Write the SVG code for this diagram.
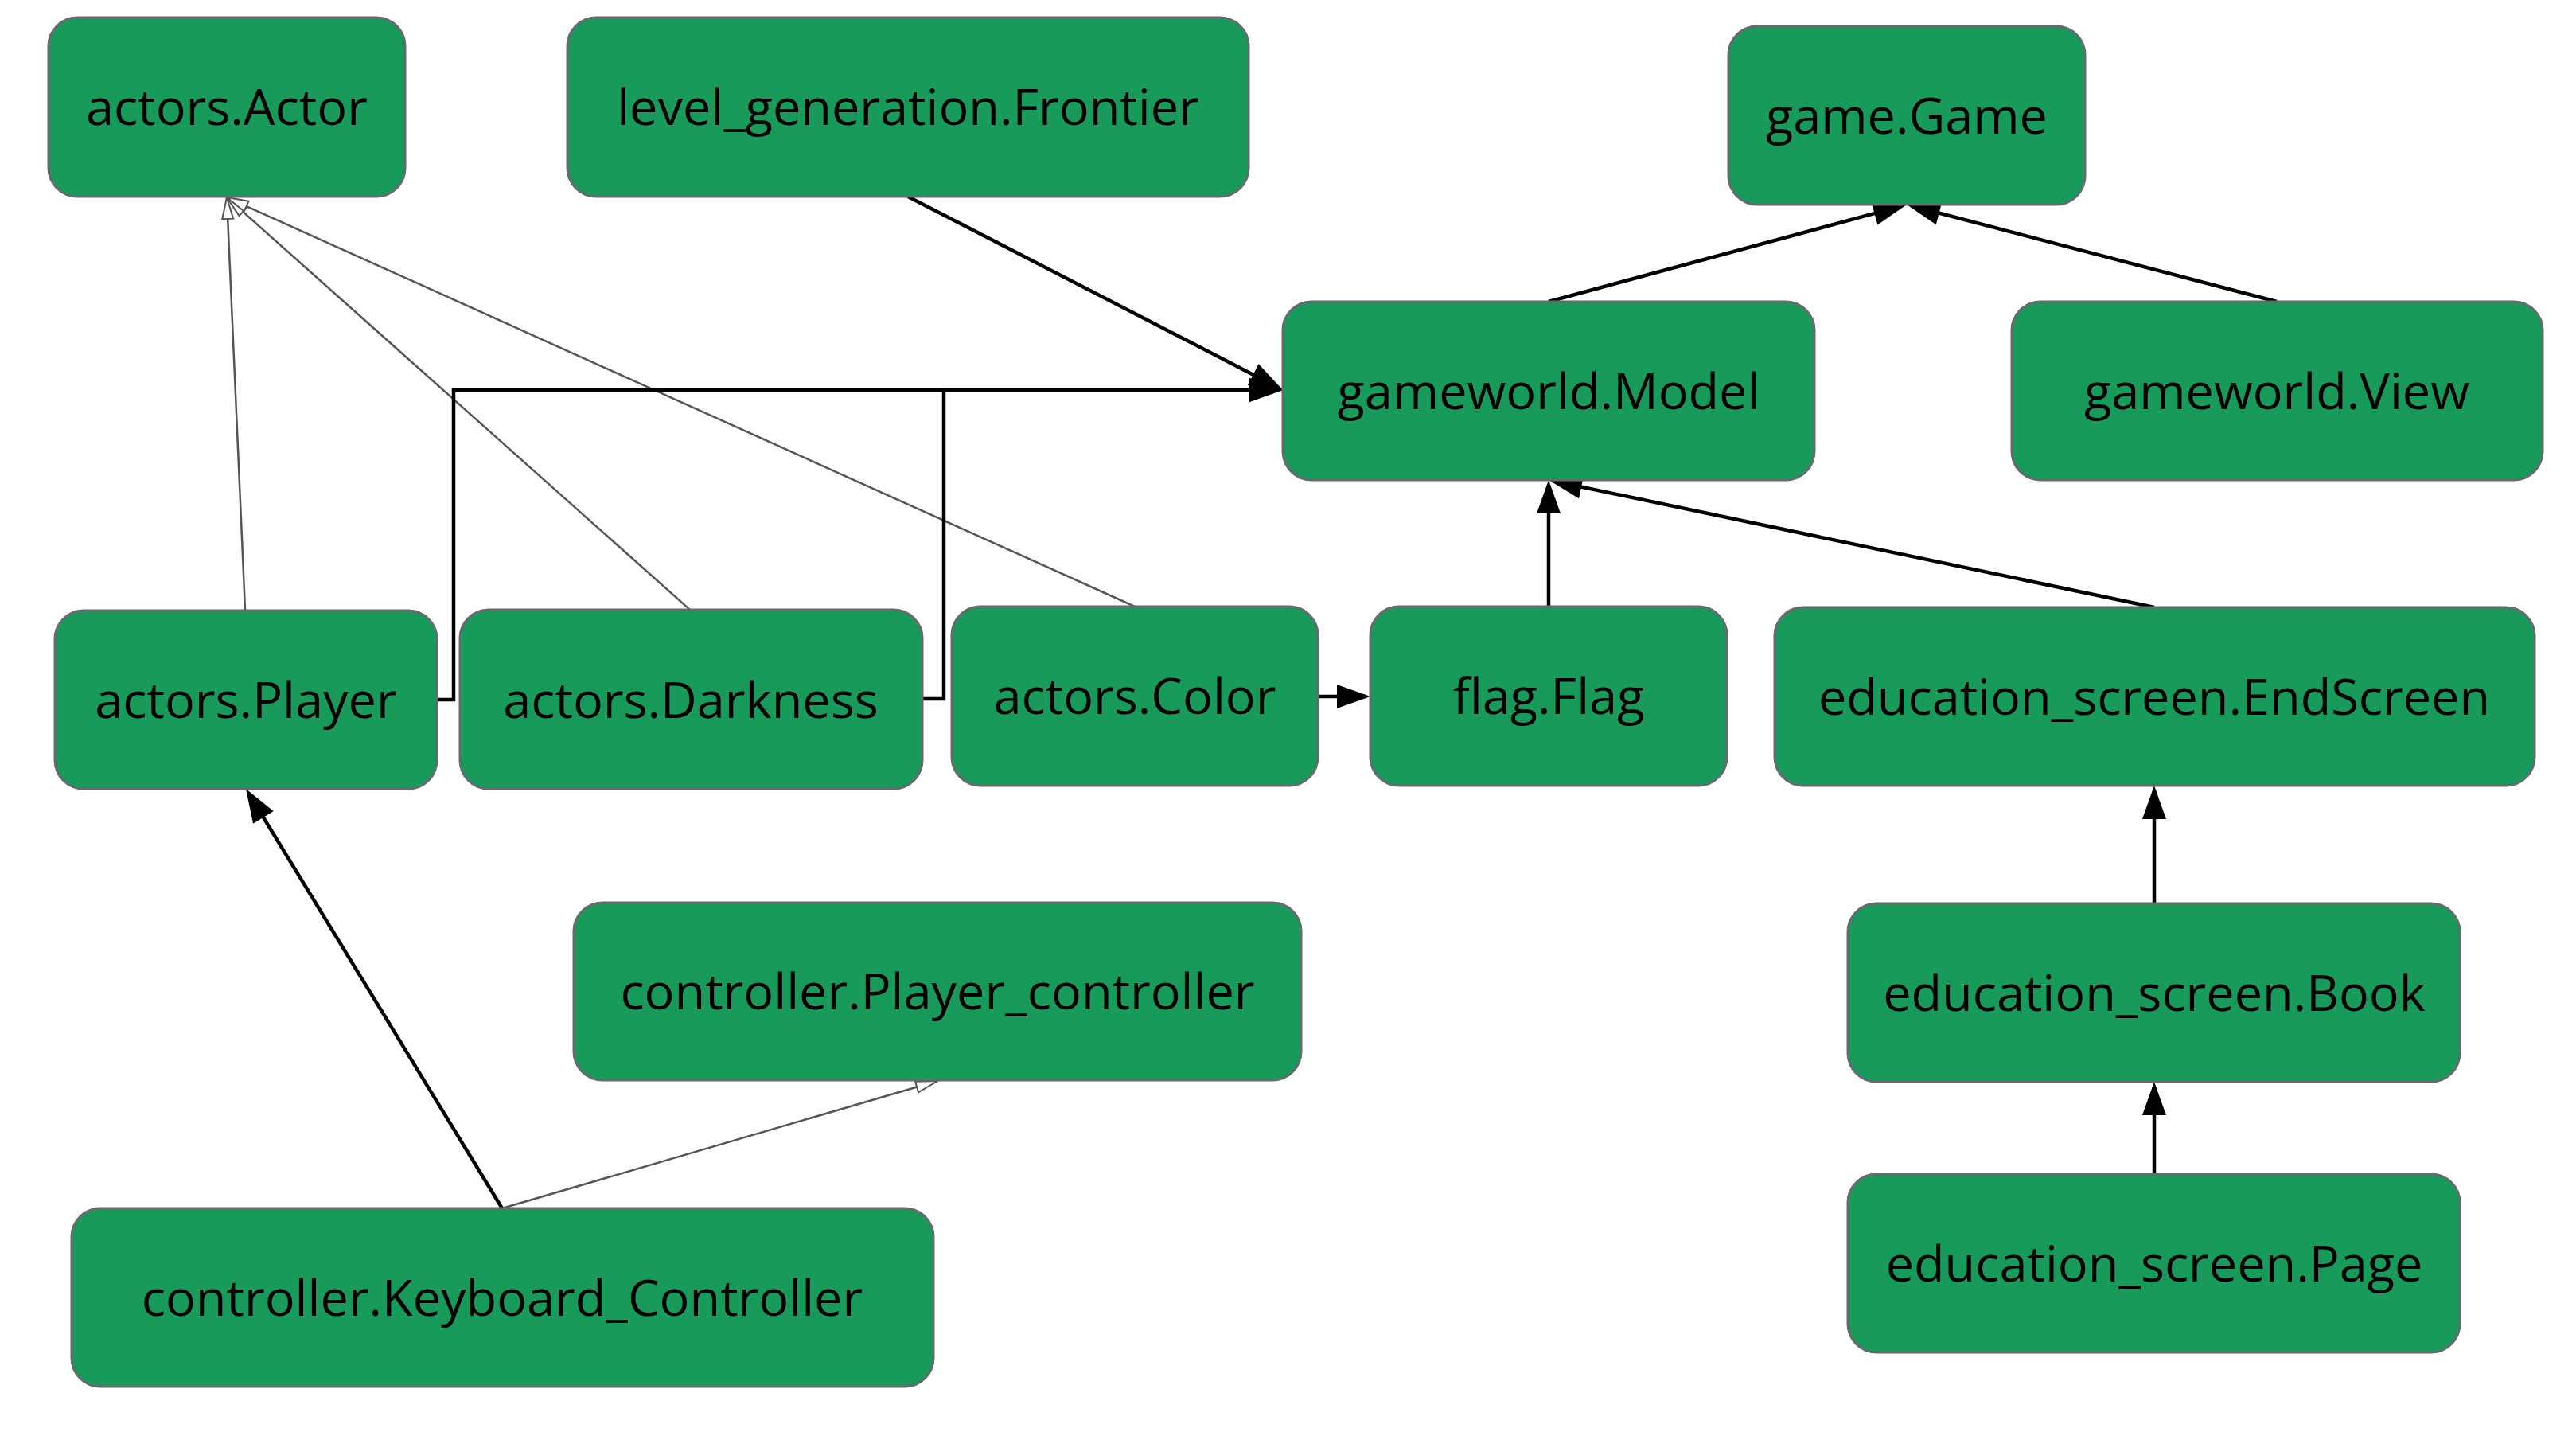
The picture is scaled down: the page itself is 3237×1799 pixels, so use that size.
<svg xmlns="http://www.w3.org/2000/svg" width="3237" height="1799" viewBox="0 0 3237 1799">
<style>
.node rect{fill:#179a5a;stroke:#666a6e;stroke-width:3}
.node text{font-family:"Open Sans","Noto Sans",sans-serif;font-size:63px;fill:#000;text-anchor:middle}
.dep{fill:none;stroke:#000;stroke-width:4.5;marker-end:url(#filled)}
.inh{fill:none;stroke:#555;stroke-width:2.5;marker-end:url(#hollow)}
</style>
<defs>
<marker id="filled" markerUnits="userSpaceOnUse" markerWidth="42" markerHeight="30" refX="36" refY="15" orient="auto" overflow="visible">
<path d="M0,0 L42,15 L0,30 z" fill="#000"/>
</marker>
<marker id="hollow" markerUnits="userSpaceOnUse" markerWidth="30" markerHeight="18" refX="28" refY="8" orient="auto" overflow="visible">
<path d="M1,1 L28,8 L1,15 z" fill="#fff" stroke="#555" stroke-width="2"/>
</marker>
</defs>
<rect width="3237" height="1799" fill="#fff"/>
<g id="connectors">
<path class="inh" d="M308,766 L285,248"/>
<path class="inh" d="M867,766 L285,248"/>
<path class="inh" d="M1426,762 L285,248"/>
<path class="inh" d="M631,1518 L1178,1358"/>
<path class="dep" d="M1141,247 L1606.7,487.2"/>
<path class="dep" d="M549,879 H570 V490 H1606"/>
<path class="dep" d="M1159,878 H1186 V490 H1606"/>
<path class="dep" d="M1656,875 H1716"/>
<path class="dep" d="M1946,762 V609"/>
<path class="dep" d="M2707,763 L1951.9,604.2"/>
<path class="dep" d="M1946,379 L2390.2,258.6"/>
<path class="dep" d="M2861,379 L2401.8,258.5"/>
<path class="dep" d="M2707,1135 V993"/>
<path class="dep" d="M2707,1475 V1365"/>
<path class="dep" d="M631,1518 L312.1,996.1"/>
</g>
<g id="actors_Actor" class="node"><rect x="61" y="22" width="448" height="225" rx="36"/><text x="285" y="157">actors.Actor</text></g>
<g id="level_generation_Frontier" class="node"><rect x="713" y="22" width="856" height="225" rx="36"/><text x="1141" y="157">level_generation.Frontier</text></g>
<g id="game_Game" class="node"><rect x="2172" y="33" width="448" height="224" rx="36"/><text x="2396" y="168">game.Game</text></g>
<g id="gameworld_Model" class="node"><rect x="1612" y="379" width="668" height="224" rx="36"/><text x="1946" y="514">gameworld.Model</text></g>
<g id="gameworld_View" class="node"><rect x="2528" y="379" width="667" height="224" rx="36"/><text x="2861" y="514">gameworld.View</text></g>
<g id="actors_Player" class="node"><rect x="69" y="767" width="480" height="224" rx="36"/><text x="309" y="902">actors.Player</text></g>
<g id="actors_Darkness" class="node"><rect x="578" y="766" width="581" height="225" rx="36"/><text x="868" y="902">actors.Darkness</text></g>
<g id="actors_Color" class="node"><rect x="1196" y="762" width="460" height="225" rx="36"/><text x="1426" y="897">actors.Color</text></g>
<g id="flag_Flag" class="node"><rect x="1722" y="762" width="448" height="225" rx="36"/><text x="1946" y="897">flag.Flag</text></g>
<g id="education_screen_EndScreen" class="node"><rect x="2230" y="763" width="955" height="224" rx="36"/><text x="2707" y="898">education_screen.EndScreen</text></g>
<g id="controller_Player_controller" class="node"><rect x="721" y="1134" width="914" height="223" rx="36"/><text x="1178" y="1268">controller.Player_controller</text></g>
<g id="education_screen_Book" class="node"><rect x="2322" y="1135" width="769" height="224" rx="36"/><text x="2707" y="1270">education_screen.Book</text></g>
<g id="controller_Keyboard_Controller" class="node"><rect x="90" y="1518" width="1083" height="224" rx="36"/><text x="631" y="1653">controller.Keyboard_Controller</text></g>
<g id="education_screen_Page" class="node"><rect x="2322" y="1475" width="769" height="224" rx="36"/><text x="2707" y="1610">education_screen.Page</text></g>
</svg>
